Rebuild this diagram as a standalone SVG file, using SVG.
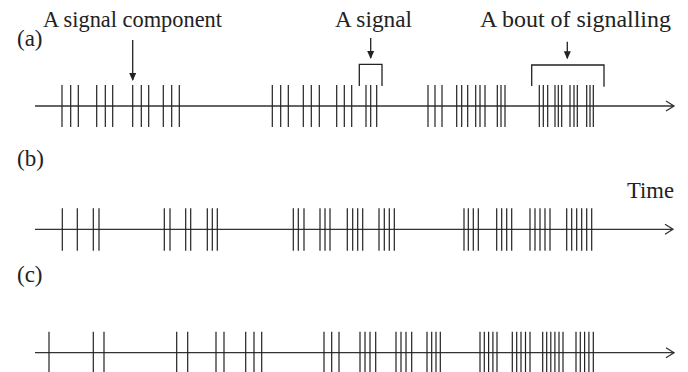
<svg xmlns="http://www.w3.org/2000/svg" width="688" height="372" viewBox="0 0 688 372">
<style>
.t{font-family:"Liberation Serif","Times New Roman",serif;font-size:23px;fill:#222}
.ax{stroke:#333;stroke-width:1.3;fill:none}
.tk{stroke:#222;stroke-width:1.2;fill:none}
.ar{stroke:#222;stroke-width:1.3;fill:none}
.br{stroke:#222;stroke-width:1.3;fill:none}
</style>
<defs>
<marker id="ah" markerWidth="8" markerHeight="8" refX="7" refY="4" orient="auto" markerUnits="userSpaceOnUse">
<path d="M0,0.5 L8,4 L0,7.5 Z" fill="#222"/>
</marker>
</defs>
<rect width="688" height="372" fill="#fff"/>
<g id="labels">
<text class="t" x="43" y="27" textLength="179" lengthAdjust="spacingAndGlyphs">A signal component</text>
<text class="t" x="335" y="27" textLength="77" lengthAdjust="spacingAndGlyphs">A signal</text>
<text class="t" x="480" y="27" textLength="191" lengthAdjust="spacingAndGlyphs">A bout of signalling</text>
<text class="t" x="17" y="46">(a)</text>
<text class="t" x="17" y="166">(b)</text>
<text class="t" x="17" y="282">(c)</text>
<text class="t" x="627" y="198" textLength="47" lengthAdjust="spacingAndGlyphs">Time</text>
</g>
<g id="row-a">
<path class="ax" d="M35,106 H674 M666,101 L674,106 L666,111"/>
<path class="tk" d="M62,85V127M70.7,85V127M78.3,85V127M96.7,85V127M105.3,85V127M112.7,85V127M132.7,85V127M141.3,85V127M148.7,85V127M163.3,85V127M171.7,85V127M179.3,85V127M272.3,85V127M280.7,85V127M288.3,85V127M303.3,85V127M311.3,85V127M319.3,85V127M336.7,85V127M344.3,85V127M351.7,85V127M366,85V127M370.7,85V127M376.7,85V127M428,85V127M435,85V127M442,85V127M456.7,85V127M461.7,85V127M467.7,85V127M475.7,85V127M480,85V127M485,85V127M497.3,85V127M501,85V127M505,85V127M539.3,85V127M543.3,85V127M547.7,85V127M555,85V127M558.3,85V127M561.7,85V127M570,85V127M574,85V127M577.3,85V127M586.7,85V127M590,85V127M593.3,85V127"/>
</g>
<g id="row-b">
<path class="ax" d="M35,229.3 H673 M665,224.3 L673,229.3 L665,234.3"/>
<path class="tk" d="M62.3,208.3V250.7M77.3,208.3V250.7M93.3,208.3V250.7M99,208.3V250.7M164.3,208.3V250.7M170,208.3V250.7M185.7,208.3V250.7M190.7,208.3V250.7M207.3,208.3V250.7M212.3,208.3V250.7M217.3,208.3V250.7M293.3,208.3V250.7M298.3,208.3V250.7M304,208.3V250.7M320,208.3V250.7M325,208.3V250.7M330,208.3V250.7M347.3,208.3V250.7M352.7,208.3V250.7M357.7,208.3V250.7M362.7,208.3V250.7M379,208.3V250.7M384.3,208.3V250.7M389.3,208.3V250.7M394.3,208.3V250.7M464,208.3V250.7M468.3,208.3V250.7M473.3,208.3V250.7M478.3,208.3V250.7M496.7,208.3V250.7M501.7,208.3V250.7M506.7,208.3V250.7M511.7,208.3V250.7M530,208.3V250.7M535,208.3V250.7M540,208.3V250.7M545,208.3V250.7M550,208.3V250.7M566.7,208.3V250.7M571.7,208.3V250.7M576.7,208.3V250.7M581.7,208.3V250.7M586.7,208.3V250.7M591.7,208.3V250.7"/>
</g>
<g id="row-c">
<path class="ax" d="M35,352.7 H674 M666,347.7 L674,352.7 L666,357.7"/>
<path class="tk" d="M49,331.7V374M93.3,331.7V374M104,331.7V374M176.7,331.7V374M187.7,331.7V374M216,331.7V374M224,331.7V374M245.7,331.7V374M254,331.7V374M261.7,331.7V374M324,331.7V374M331.7,331.7V374M339,331.7V374M360,331.7V374M365,331.7V374M370,331.7V374M375.7,331.7V374M396,331.7V374M401,331.7V374M406,331.7V374M411.7,331.7V374M427,331.7V374M431.7,331.7V374M436,331.7V374M440.3,331.7V374M480,331.7V374M484.3,331.7V374M488.6,331.7V374M492.9,331.7V374M497,331.7V374M512.3,331.7V374M516.7,331.7V374M521,331.7V374M525.5,331.7V374M530,331.7V374M542.7,331.7V374M546.7,331.7V374M550.8,331.7V374M554.9,331.7V374M559,331.7V374M563,331.7V374M576,331.7V374M580.3,331.7V374M584.6,331.7V374M588.9,331.7V374M593.3,331.7V374"/>
</g>
<g id="connectors">
<path class="ar" d="M132.7,40 V80" marker-end="url(#ah)"/>
<path class="ar" d="M370.7,38 V58" marker-end="url(#ah)"/>
<path class="ar" d="M567.3,41.7 V58.3" marker-end="url(#ah)"/>
<path class="br" d="M359.3,86 V64.3 H382 V86"/>
<path class="br" d="M531.7,86 V65 H604 V86.7"/>
</g>
</svg>
